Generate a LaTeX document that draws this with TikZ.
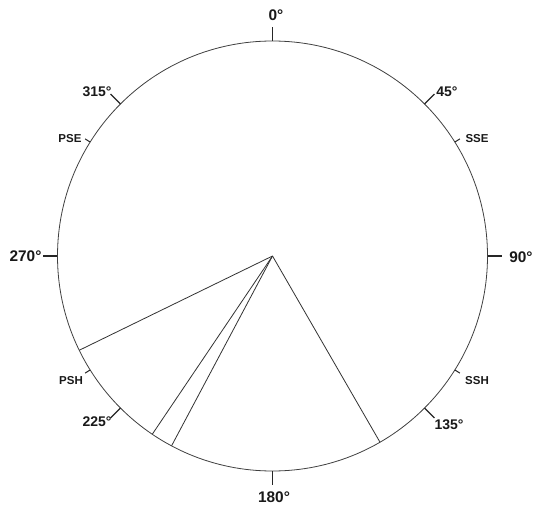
\documentclass[tikz,border=0pt]{standalone}
\usepackage{fontspec}
\setmainfont{Liberation Sans}
\begin{document}
\begin{tikzpicture}[x=1pt,y=1pt,
  rim/.style={draw=black!75, line width=0.8pt},
  ray/.style={draw=black!80, line width=0.8pt},
  tickmaj/.style={draw=black!85, line width=1.1pt},
  tickmin/.style={draw=black!85, line width=1.0pt},
  lblbig/.style={font=\fontsize{15.4}{17}\selectfont\bfseries, text=black!90, inner sep=0pt},
  lblmid/.style={font=\fontsize{14}{16}\selectfont\bfseries, text=black!90, inner sep=0pt},
  lblsmall/.style={font=\fontsize{11.5}{13}\selectfont\bfseries, text=black!90, inner sep=0pt}]
\useasboundingbox (-272.5,-252) rectangle (261.5,256);
\fill[white] (-272.5,-252) rectangle (261.5,256);
\coordinate (O) at (0,0);
\draw[rim] (O) circle (215);
% rays (compass angles 150, 208, 214, 244)
\coordinate (r1) at ({90-150}:215);
\coordinate (r2) at ({90-208}:215);
\coordinate (r3) at ({90-214}:215);
\coordinate (r4) at ({90-244}:215);
\draw[ray] (O) -- (r1);
\draw[ray] (O) -- (r2);
\draw[ray] (O) -- (r3);
\draw[ray] (O) -- (r4);
% major ticks
\foreach \a in {0,45,90,135,180,225,270,315} {
  \draw[tickmaj] ({90-\a}:215) -- ({90-\a}:229);
}
% minor ticks
\foreach \a in {58,122,238,302} {
  \draw[tickmin] ({90-\a}:215) -- ({90-\a}:221);
}
% labels
\node[lblbig] (l0) at (3.5,241) {0°};
\node[lblbig] (l90) at (248.5,-1) {90°};
\node[lblbig] (l180) at (1.5,-241) {180°};
\node[lblbig] (l270) at (-247,-0.5) {270°};
\node[lblmid] (l45) at (174.5,164) {45°};
\node[lblmid] (l135) at (176.5,-169) {135°};
\node[lblmid] (l225) at (-175.5,-166) {225°};
\node[lblmid] (l315) at (-175.5,164) {315°};
\node[lblsmall] (lsse) at (204.5,117) {SSE};
\node[lblsmall] (lpse) at (-202.5,117) {PSE};
\node[lblsmall] (lssh) at (204.5,-125) {SSH};
\node[lblsmall] (lpsh) at (-201.5,-125) {PSH};
\end{tikzpicture}
\end{document}
